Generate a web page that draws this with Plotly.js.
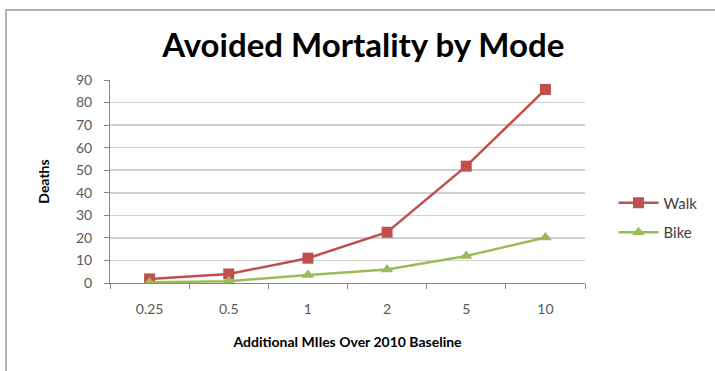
<!DOCTYPE html>
<html>
<head>
<meta charset="utf-8">
<script src="https://cdn.plot.ly/plotly-3.0.1.min.js"></script>
<style>
  html, body { margin: 0; padding: 0; background: #fff; }
  #frame {
    position: absolute; left: 5px; top: 9px; width: 710px; height: 362px;
    border-top: 2px solid #b4b4b4; border-left: 2px solid #b4b4b4;
    box-sizing: border-box;
  }
  #chart { position: absolute; left: 0; top: 0; width: 715px; height: 371px; }
</style>
</head>
<body>
<div id="frame"></div>
<div id="chart"></div>
<script>
// Additional miles over the 2010 baseline
const milesCategories = ['0.25', '0.5', '1', '2', '5', '10'];
// Avoided deaths by mode
const walkDeaths = [1.8, 4, 11, 22.5, 51.8, 85.8];
const bikeDeaths = [0.3, 0.8, 3.5, 6, 12, 20.2];
const yTickValues = [0, 10, 20, 30, 40, 50, 60, 70, 80, 90];

const walkColor = '#c0504d';
const bikeColor = '#9bbb59';
const fontFamily = 'Lato, "Open Sans", sans-serif';
const labelFont = { family: fontFamily, size: 14, color: '#595959' };

const traces = [
  {
    name: 'Walk', legendgroup: 'walk', x: milesCategories, y: walkDeaths,
    type: 'scatter', mode: 'lines+markers',
    line: { color: walkColor, width: 2.5 },
    marker: { symbol: 'square', size: 11, color: walkColor }
  },
  {
    name: 'Bike', legendgroup: 'bike', x: milesCategories, y: bikeDeaths,
    type: 'scatter', mode: 'lines+markers',
    line: { color: bikeColor, width: 2.5 },
    marker: { symbol: 'triangle-up', size: 11, color: bikeColor }
  }
];

const layout = {
  width: 715, height: 371,
  margin: { l: 110, r: 128, t: 80, b: 88 },
  paper_bgcolor: 'rgba(0,0,0,0)', plot_bgcolor: 'rgba(0,0,0,0)',
  font: labelFont,
  showlegend: true,
  title: {
    text: '<b>Avoided Mortality by Mode</b>',
    font: { family: fontFamily, size: 33, color: '#000' },
    x: 0.508, xanchor: 'center', y: 0.878, yanchor: 'middle'
  },
  xaxis: {
    type: 'category', range: [-0.5, 5.5],
    tickson: 'boundaries', ticks: 'outside', ticklen: 5, tickcolor: '#868686',
    ticklabelstandoff: 13,
    showline: true, linecolor: '#868686', linewidth: 1,
    showgrid: false, zeroline: false,
    tickfont: labelFont,
    title: { text: '<b>Additional MIles Over 2010 Baseline</b>', standoff: 21,
             font: { family: fontFamily, size: 14, color: '#000' } }
  },
  yaxis: {
    range: [0, 90], tickvals: yTickValues,
    ticks: 'outside', ticklen: 5, tickcolor: '#868686',
    ticklabelstandoff: 9,
    showline: true, linecolor: '#868686', linewidth: 1,
    showgrid: true, gridcolor: '#d0d0d0', gridwidth: 1.5, zeroline: false,
    tickfont: labelFont,
    title: { text: '<b>Deaths</b>', standoff: 23,
             font: { family: fontFamily, size: 14, color: '#000' } }
  },
  legend: {
    x: 1.06, xanchor: 'left', y: 0.475, yanchor: 'top',
    font: { family: fontFamily, size: 15, color: '#404040' },
    tracegroupgap: 7, itemwidth: 40
  }
};

Plotly.newPlot('chart', traces, layout, { staticPlot: true, displayModeBar: false });
</script>
</body>
</html>
